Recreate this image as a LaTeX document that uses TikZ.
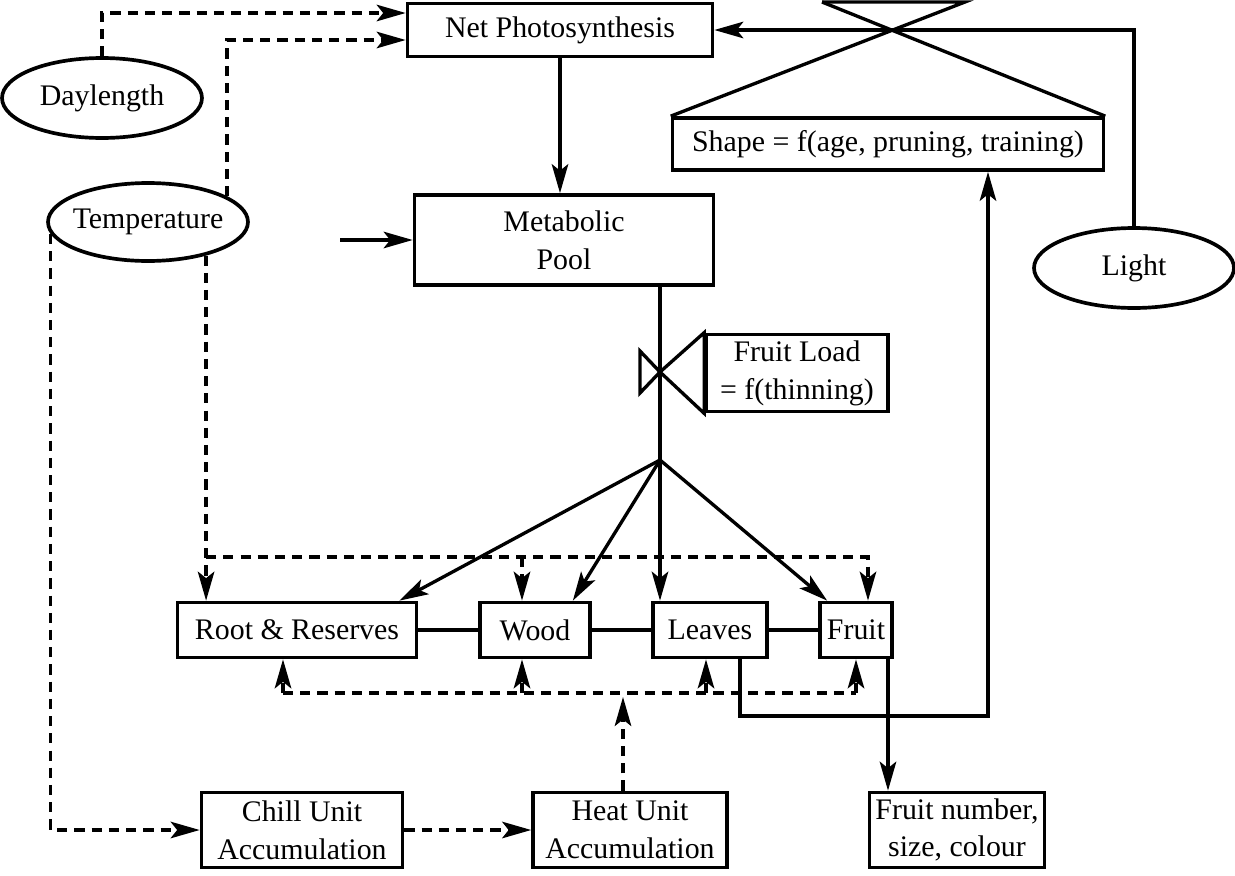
\documentclass[tikz,border=0pt]{standalone}
\usepackage{fontspec}
\setmainfont{Liberation Serif}
\usetikzlibrary{arrows.meta,shapes.geometric,calc}
\tikzset{
  box/.style={draw, line width=2.1pt, fill=white, align=center, inner sep=0pt,
              font=\fontsize{17}{21.5}\selectfont},
  oval/.style={box, ellipse, inner xsep=-0.4cm, minimum width=4cm, minimum height=1.6cm},
  arr/.style={-{Stealth[length=5.8mm,width=3.3mm,inset=1.3mm]}, line width=1.9pt},
  line/.style={line width=1.9pt},
  dsh/.style={line width=1.9pt, dash pattern=on 5.8pt off 4pt}
}

\begin{document}
\begin{tikzpicture}[x=0.02cm, y=-0.02cm]
  \useasboundingbox (0,0) rectangle (1235,876);
  % boxes and ovals
  \node[box, minimum width=6.1cm, minimum height=1.06cm]  (np)     at (560,30)  {Net Photosynthesis};
  \node[box, minimum width=5.98cm, minimum height=1.8cm]  (pool)   at (564,240) {Metabolic\\Pool};
  \node[box, minimum width=8.62cm, minimum height=1.04cm] (shape)  at (888,144) {Shape = f(age, pruning, training)};
  \node[box, minimum width=3.64cm, minimum height=1.54cm] (fload)  at (797,373) {Fruit Load\\= f(thinning)};
  \node[box, minimum width=4.78cm, minimum height=1.1cm]  (root)   at (297,630) {Root \& Reserves};
  \node[box, minimum width=2.2cm, minimum height=1.1cm]   (wood)   at (535,630) {Wood};
  \node[box, minimum width=2.28cm, minimum height=1.1cm]  (leaves) at (710,630) {Leaves};
  \node[box, minimum width=1.44cm, minimum height=1.1cm]  (fruit)  at (856,630) {Fruit};
  \node[box, minimum width=4.02cm, minimum height=1.5cm]  (chill)  at (302,830) {Chill Unit\\Accumulation};
  \node[box, minimum width=3.88cm, minimum height=1.5cm]  (heat)   at (630,830) {Heat Unit\\Accumulation};
  \node[box, minimum width=3.5cm, minimum height=1.5cm]   (fnum)   at (957,830) {Fruit number,\\size, colour};
  \node[oval] (day)   at (102,98)  {Daylength};
  \node[oval, minimum height=1.56cm] (temp) at (148,222) {Temperature};
  \node[oval] (light) at (1134,268) {Light};

  \coordinate (bl) at (822,2);
  \coordinate (br) at (965,2);
  \coordinate (valve) at (660,372);
  \coordinate (jn) at (660,460);
  \coordinate (inflow) at (340,240);
  \coordinate (tbus) at (0,557);
  \coordinate (bbus) at (0,693);
  \coordinate (lturn) at (988,716);
  \coordinate (wtop) at ($(wood.north)+(-13,0)$);
  \coordinate (ftop) at ($(fruit.north)+(12,0)$);
  \coordinate (rbot) at ($(root.south)+(-14,0)$);
  \coordinate (wbot) at ($(wood.south)+(-13,0)$);
  \coordinate (lbot) at ($(leaves.south)+(-4,0)$);
  \coordinate (fbot) at (fruit.south);
  \coordinate (hx) at ($(heat.north)+(-7,0)$);
  \coordinate (fout) at ($(fruit.south)+(32,0)$);

  % canopy shape and light
  \draw[line] (bl) -- (br) -- (shape.north west);
  \draw[line] (bl) -- (shape.north east);
  \draw[arr] (light.north) |- (np.east);
  \draw[arr] (np.south) -- (np.south |- pool.north);
  \draw[arr] (inflow) -- (pool.west);

  % partitioning
  \draw[line] (pool.south -| jn) -- (jn);
  \draw[line] (valve) -- (fload.north west) -- (fload.south west) -- cycle;
  \draw[line] (valve) -- ++(-20,-21) -- ++(0,42) -- cycle;
  \draw[arr] (jn) -- ($(root.north east)+(-19,0)$);
  \draw[arr] (jn) -- ($(wood.north east)+(-19,0)$);
  \draw[arr] (jn) -- (jn |- leaves.north);
  \draw[arr] (jn) -- ($(fruit.north west)+(9,0)$);
  \draw[line] (root.east) -- (wood.west);
  \draw[line] (wood.east) -- (leaves.west);
  \draw[line] (leaves.east) -- (fruit.west);
  \draw[arr] ($(leaves.south)+(30,0)$) |- (lturn) -- (lturn |- shape.south);
  \draw[arr] (fout) -- (fout |- fnum.north);

  % temperature and daylength
  \draw[dsh, arr] (day.north) |- ($(np.west)+(0,-17)$);
  \draw[dsh, arr] (temp.18) |- ($(np.west)+(0,10)$);
  \draw[dsh, arr] (temp.-30) -- (temp.-30 |- root.north);
  \draw[dsh, arr] (temp.-30 |- tbus) -| (ftop);
  \draw[dsh, arr] (wtop |- tbus) -- (wtop);
  \draw[dsh, arr] (temp.-173) |- (chill.west);
  \draw[dsh, arr] (chill.east) -- (heat.west);
  \draw[dsh] (rbot |- bbus) -- (fbot |- bbus);
  \draw[dsh, arr] (rbot |- bbus) -- (rbot);
  \draw[dsh, arr] (wbot |- bbus) -- (wbot);
  \draw[dsh, arr] (lbot |- bbus) -- (lbot);
  \draw[dsh, arr] (fbot |- bbus) -- (fbot);
  \draw[dsh, arr] (hx) -- ($(hx |- bbus)+(0,4)$);
\end{tikzpicture}
\end{document}
